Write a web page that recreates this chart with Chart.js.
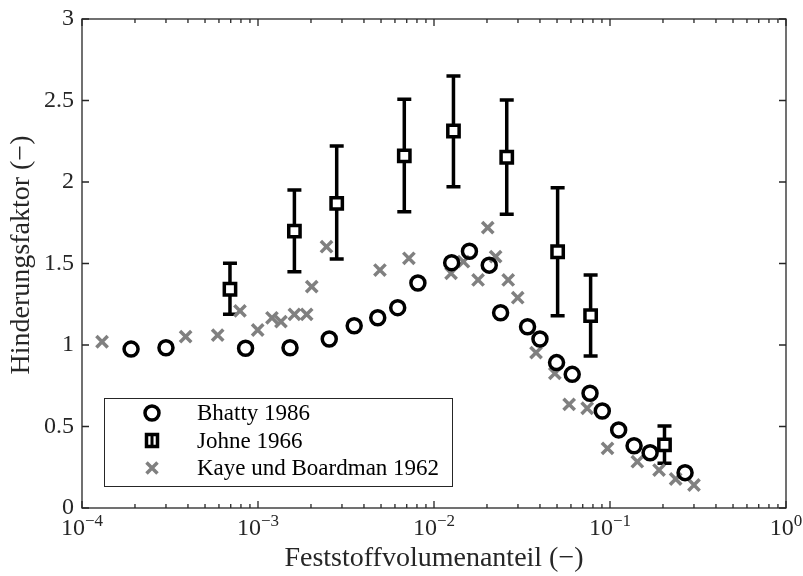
<!DOCTYPE html>
<html>
<head>
<meta charset="utf-8">
<script src="https://cdn.jsdelivr.net/npm/chart.js@4/dist/chart.umd.min.js"></script>
<style>
    html, body { margin: 0; padding: 0; background: #fff; }
    #wrap { width: 803px; height: 576px; }
</style>
</head>
<body>
<div id="wrap"><canvas id="chart" width="803" height="576"></canvas></div>
<script>
// Bhatty 1986 (circles)
const bhattyX = [1.9e-4, 3.0e-4, 8.5e-4, 1.52e-3, 2.54e-3, 3.52e-3, 4.79e-3, 6.22e-3, 8.1e-3,
    1.26e-2, 1.59e-2, 2.06e-2, 2.39e-2, 3.4e-2, 4.0e-2, 4.97e-2, 6.1e-2, 7.7e-2, 9.04e-2,
    0.112, 0.137, 0.169, 0.267];
const bhattyY = [0.975, 0.983, 0.98, 0.983, 1.037, 1.118, 1.167, 1.229, 1.38,
    1.505, 1.575, 1.49, 1.198, 1.112, 1.037, 0.892, 0.82, 0.704, 0.595,
    0.479, 0.382, 0.339, 0.217];

// Johne 1966 (squares with error bars)
const johneX = [6.93e-4, 1.61e-3, 2.8e-3, 6.78e-3, 1.29e-2, 2.59e-2, 5.04e-2, 7.76e-2, 0.204];
const johneY = [1.342, 1.699, 1.869, 2.16, 2.313, 2.152, 1.572, 1.18, 0.387];
const johneLow = [1.188, 1.45, 1.528, 1.818, 1.971, 1.802, 1.18, 0.933, 0.274];
const johneHigh = [1.501, 1.951, 2.221, 2.507, 2.65, 2.503, 1.965, 1.43, 0.503];

// Kaye und Boardman 1962 (crosses)
const kayeX = [1.3e-4, 3.88e-4, 5.9e-4, 7.9e-4, 9.96e-4, 1.2e-3, 1.35e-3, 1.61e-3, 1.89e-3,
    2.02e-3, 2.45e-3, 4.93e-3, 7.2e-3, 1.25e-2, 1.47e-2, 1.78e-2, 2.02e-2, 2.24e-2,
    2.64e-2, 2.99e-2, 3.8e-2, 4.86e-2, 5.86e-2, 7.42e-2, 9.68e-2, 0.143, 0.19, 0.236, 0.30];
const kayeY = [1.02, 1.051, 1.061, 1.209, 1.092, 1.167, 1.143, 1.188, 1.188,
    1.358, 1.603, 1.46, 1.532, 1.44, 1.511, 1.399, 1.72, 1.542,
    1.399, 1.29, 0.953, 0.826, 0.636, 0.612, 0.366, 0.284, 0.233, 0.178, 0.141];

const seriesNames = ['Bhatty 1986', 'Johne 1966', 'Kaye und Boardman 1962'];
const xDecades = [-4, -3, -2, -1, 0];
const yTicks = [0, 0.5, 1, 1.5, 2, 2.5, 3];
const yTickLabels = ['0', '0.5', '1', '1.5', '2', '2.5', '3'];
const xTitle = 'Feststoffvolumenanteil (\u2212)';
const yTitle = 'Hinderungsfaktor (\u2212)';

const AXIS_COLOR = '#262626';
const SERIF = '"Liberation Serif", "Times New Roman", serif';
const GRAY = '#808080';

function toPoints(xs, ys) {
    return xs.map((x, i) => ({ x: x, y: ys[i] }));
}

const errorBarPlugin = {
    id: 'errorBars',
    beforeDatasetsDraw(chart) {
        const ctx = chart.ctx;
        const xs = chart.scales.x;
        const ys = chart.scales.y;
        ctx.save();
        ctx.strokeStyle = '#000';
        ctx.lineWidth = 3.5;
        ctx.lineCap = 'butt';
        johneX.forEach((x, i) => {
            const px = xs.getPixelForValue(x);
            const top = ys.getPixelForValue(johneHigh[i]);
            const bot = ys.getPixelForValue(johneLow[i]);
            ctx.beginPath();
            ctx.moveTo(px, top);
            ctx.lineTo(px, bot);
            ctx.moveTo(px - 7, top);
            ctx.lineTo(px + 7, top);
            ctx.moveTo(px - 7, bot);
            ctx.lineTo(px + 7, bot);
            ctx.stroke();
        });
        ctx.restore();
    }
};

function drawLegendMarker(ctx, kind, x, y) {
    ctx.save();
    if (kind === 0) {
        ctx.strokeStyle = '#000';
        ctx.lineWidth = 3.5;
        ctx.beginPath();
        ctx.arc(x, y, 7, 0, Math.PI * 2);
        ctx.stroke();
    } else if (kind === 1) {
        ctx.strokeStyle = '#000';
        ctx.lineWidth = 3.5;
        ctx.fillStyle = '#fff';
        ctx.beginPath();
        ctx.rect(x - 5.5, y - 6, 11, 12);
        ctx.fill();
        ctx.stroke();
        ctx.lineWidth = 3;
        ctx.beginPath();
        ctx.moveTo(x, y - 7);
        ctx.lineTo(x, y + 7);
        ctx.stroke();
    } else {
        ctx.strokeStyle = GRAY;
        ctx.lineWidth = 3.5;
        ctx.beginPath();
        ctx.moveTo(x - 5.5, y - 5.5);
        ctx.lineTo(x + 5.5, y + 5.5);
        ctx.moveTo(x + 5.5, y - 5.5);
        ctx.lineTo(x - 5.5, y + 5.5);
        ctx.stroke();
    }
    ctx.restore();
}

const axesPlugin = {
    id: 'matlabAxes',
    afterDatasetsDraw(chart) {
        const ctx = chart.ctx;
        const area = chart.chartArea;
        const xs = chart.scales.x;
        const ys = chart.scales.y;
        ctx.save();

        // box
        ctx.strokeStyle = AXIS_COLOR;
        ctx.lineWidth = 1.3;
        ctx.strokeRect(area.left, area.top, area.right - area.left, area.bottom - area.top);

        // x ticks (major + minor), inward on bottom and top
        ctx.beginPath();
        xDecades.forEach((d, k) => {
            const px = xs.getPixelForValue(Math.pow(10, d));
            ctx.moveTo(px, area.bottom); ctx.lineTo(px, area.bottom - 7);
            ctx.moveTo(px, area.top); ctx.lineTo(px, area.top + 7);
            if (k < xDecades.length - 1) {
                for (let m = 2; m <= 9; m++) {
                    const mx = xs.getPixelForValue(m * Math.pow(10, d));
                    ctx.moveTo(mx, area.bottom); ctx.lineTo(mx, area.bottom - 4);
                    ctx.moveTo(mx, area.top); ctx.lineTo(mx, area.top + 4);
                }
            }
        });
        // y ticks, inward on left and right
        yTicks.forEach(v => {
            const py = ys.getPixelForValue(v);
            ctx.moveTo(area.left, py); ctx.lineTo(area.left + 7, py);
            ctx.moveTo(area.right, py); ctx.lineTo(area.right - 7, py);
        });
        ctx.stroke();

        // tick labels
        ctx.fillStyle = AXIS_COLOR;
        ctx.font = '24px ' + SERIF;
        ctx.textAlign = 'right';
        ctx.textBaseline = 'alphabetic';
        yTicks.forEach((v, i) => {
            const py = ys.getPixelForValue(v);
            ctx.fillText(yTickLabels[i], area.left - 8, py + 6);
        });

        xDecades.forEach(d => {
            const px = xs.getPixelForValue(Math.pow(10, d));
            const base = '10';
            const sup = d < 0 ? '\u2212' + Math.abs(d) : String(d);
            ctx.font = '24px ' + SERIF;
            const wb = ctx.measureText(base).width;
            ctx.font = '17px ' + SERIF;
            const ws = ctx.measureText(sup).width;
            const start = px - (wb + ws) / 2;
            ctx.textAlign = 'left';
            ctx.font = '24px ' + SERIF;
            ctx.fillText(base, start, area.bottom + 27);
            ctx.font = '17px ' + SERIF;
            ctx.fillText(sup, start + wb, area.bottom + 18);
        });

        // axis titles
        ctx.font = '28px ' + SERIF;
        ctx.textAlign = 'center';
        ctx.fillText(xTitle, (area.left + area.right) / 2, 566);
        ctx.save();
        ctx.translate(29, 255);
        ctx.rotate(-Math.PI / 2);
        ctx.fillText(yTitle, 0, 0);
        ctx.restore();

        // legend
        const lx = 104, ly = 398, lw = 348, lh = 88;
        ctx.fillStyle = '#fff';
        ctx.fillRect(lx, ly, lw, lh);
        ctx.strokeStyle = AXIS_COLOR;
        ctx.lineWidth = 1;
        ctx.strokeRect(lx + 0.5, ly + 0.5, lw, lh);
        ctx.font = '23px ' + SERIF;
        ctx.textAlign = 'left';
        ctx.fillStyle = '#000';
        seriesNames.forEach((name, i) => {
            const ry = ly + 15 + i * 27.5;
            drawLegendMarker(ctx, i, 152, ry);
            ctx.fillText(name, 197, ry + 7);
        });

        ctx.restore();
    }
};

const config = {
    type: 'scatter',
    data: {
        datasets: [
            {
                label: seriesNames[0],
                data: toPoints(bhattyX, bhattyY),
                pointStyle: 'circle',
                pointRadius: 7,
                borderWidth: 3.5,
                borderColor: '#000',
                backgroundColor: 'rgba(0,0,0,0)'
            },
            {
                label: seriesNames[1],
                data: toPoints(johneX, johneY),
                pointStyle: 'rect',
                pointRadius: 8,
                borderWidth: 3.5,
                borderColor: '#000',
                backgroundColor: '#fff'
            },
            {
                label: seriesNames[2],
                data: toPoints(kayeX, kayeY),
                pointStyle: 'crossRot',
                pointRadius: 8,
                borderWidth: 3.5,
                borderColor: GRAY,
                backgroundColor: GRAY
            }
        ]
    },
    options: {
        responsive: false,
        animation: false,
        devicePixelRatio: 1,
        layout: { padding: { left: 82, right: 17, top: 19, bottom: 68 } },
        plugins: {
            legend: { display: false },
            tooltip: { enabled: false }
        },
        scales: {
            x: { type: 'logarithmic', min: 1e-4, max: 1, display: false },
            y: { type: 'linear', min: 0, max: 3, display: false }
        }
    },
    plugins: [errorBarPlugin, axesPlugin]
};

document.addEventListener('DOMContentLoaded', () => {
    const ctx = document.getElementById('chart').getContext('2d');
    window.hinderChart = new Chart(ctx, config);
});
</script>
</body>
</html>
